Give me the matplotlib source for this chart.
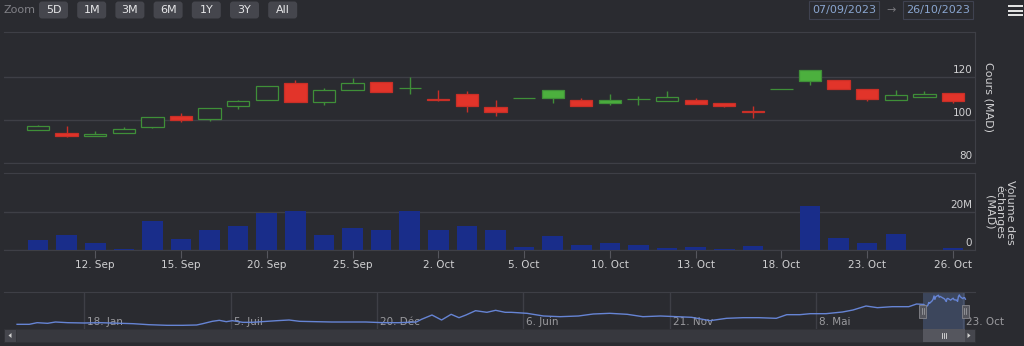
import numpy as np
import pandas as pd
import matplotlib
matplotlib.use("Agg")
import matplotlib.pyplot as plt
import matplotlib.dates as mdates
from matplotlib.patches import Rectangle, FancyBboxPatch, Polygon
from matplotlib.transforms import blended_transform_factory, offset_copy

plt.rcParams['font.family'] = ['DejaVu Sans']

W, H = 1024, 346
BG = "#2a2b30"
GRID = "#3e3f46"
TEXT = "#d0d0d2"
GREEN_EDGE = "#3f8f38"
GREEN_FILL = "#4cb03e"
RED_EDGE = "#c92f27"
RED_FILL = "#e2342a"
VOL_COLOR = "#192d8a"
NAV_LINE = "#6684d4"

# daily candles (MAD)
dates = pd.to_datetime([
    "2023-09-08", "2023-09-11", "2023-09-12", "2023-09-13", "2023-09-14",
    "2023-09-15", "2023-09-18", "2023-09-19", "2023-09-20", "2023-09-21",
    "2023-09-22", "2023-09-25", "2023-09-26", "2023-09-27", "2023-10-02",
    "2023-10-03", "2023-10-04", "2023-10-05", "2023-10-06", "2023-10-09",
    "2023-10-10", "2023-10-11", "2023-10-12", "2023-10-13", "2023-10-16",
    "2023-10-17", "2023-10-18", "2023-10-19", "2023-10-20", "2023-10-23",
    "2023-10-24", "2023-10-25", "2023-10-26"])
opens = [95.5, 94.0, 92.5, 93.9, 96.7, 101.7, 100.5, 106.6, 109.2, 117.0,
         108.3, 113.8, 117.5, 114.8, 109.8, 112.0, 106.1, 110.1, 114.1, 109.4,
         109.1, 109.6, 108.7, 109.1, 108.1, 104.0, 114.6, 123.1, 118.5, 114.6,
         109.5, 110.9, 112.5]
highs = [97.6, 97.0, 94.8, 96.5, 101.5, 103.4, 105.4, 109.5, 115.8, 118.5,
         114.7, 119.4, 117.8, 119.9, 113.8, 113.3, 109.5, 110.1, 114.1, 110.0,
         112.0, 111.3, 113.3, 110.3, 108.1, 106.7, 114.6, 123.1, 118.5, 114.6,
         114.1, 113.3, 112.5]
lows = [95.5, 91.8, 92.4, 93.9, 96.2, 98.9, 99.7, 105.3, 109.2, 108.3,
        107.0, 113.8, 113.0, 112.2, 108.6, 103.6, 101.7, 110.1, 107.8, 106.6,
        106.9, 107.0, 108.7, 107.3, 106.1, 100.9, 114.6, 116.4, 114.2, 108.9,
        109.5, 110.9, 108.1]
closes = [97.2, 92.5, 93.6, 95.8, 101.5, 99.8, 105.4, 108.9, 115.8, 108.3,
          114.1, 117.4, 113.0, 114.8, 109.3, 106.6, 103.6, 110.1, 110.3, 106.6,
          108.1, 109.7, 110.8, 107.5, 106.6, 103.8, 114.6, 118.0, 114.2, 109.9,
          111.8, 112.1, 108.7]
# traded value, millions of MAD
volumes_m = [5.3, 7.7, 3.5, 0.5, 15.3, 5.8, 10.7, 12.9, 19.6, 20.7,
             7.7, 11.4, 10.8, 20.7, 10.8, 12.9, 10.5, 1.7, 7.2, 2.8,
             3.5, 2.5, 1.0, 1.4, 0.5, 1.9, 0.0, 23.5, 6.1, 3.8,
             8.6, 0.0, 0.8]

# older closes for the navigator strip
hist_dates = pd.to_datetime([
    "2020-11-02", "2020-11-16", "2020-11-25", "2020-12-07", "2020-12-16",
    "2020-12-30", "2021-01-18", "2021-02-05", "2021-03-01", "2021-03-15",
    "2021-04-02", "2021-04-23", "2021-05-11", "2021-05-27", "2021-06-03",
    "2021-06-14", "2021-06-22", "2021-06-30", "2021-07-07", "2021-07-19",
    "2021-07-30", "2021-08-16", "2021-08-27", "2021-09-10", "2021-09-22",
    "2021-10-11", "2021-10-29", "2021-11-18", "2021-12-07", "2021-12-27",
    "2022-01-14", "2022-02-03", "2022-02-09", "2022-02-21", "2022-03-04",
    "2022-03-15", "2022-03-24", "2022-04-01", "2022-04-12", "2022-04-25",
    "2022-05-05", "2022-05-16", "2022-05-23", "2022-06-10", "2022-06-29",
    "2022-07-18", "2022-08-08", "2022-08-25", "2022-09-13", "2022-10-03",
    "2022-10-21", "2022-11-10", "2022-11-29", "2022-12-16", "2023-01-06",
    "2023-01-25", "2023-02-13", "2023-03-03", "2023-03-23", "2023-04-04",
    "2023-04-19", "2023-05-01", "2023-05-19", "2023-06-07", "2023-06-19",
    "2023-07-04", "2023-07-17", "2023-08-03", "2023-08-22", "2023-08-31"])
hist_close = [53.4, 53.4, 57.0, 55.6, 58.5, 57.0, 56.3, 57.0, 55.6, 54.8,
              52.6, 51.2, 51.2, 51.9, 54.8, 60.0, 62.2, 59.2, 61.4, 57.8,
              57.8, 60.0, 61.4, 62.9, 60.0, 59.2, 58.5, 58.5, 58.5, 57.0,
              57.0, 58.5, 64.4, 73.9, 62.9, 75.4, 68.0, 73.9, 83.4, 79.8,
              84.2, 79.8, 79.8, 77.6, 71.7, 70.2, 71.7, 76.1, 77.6, 75.4,
              70.2, 71.7, 70.2, 68.8, 61.4, 66.6, 68.0, 68.0, 66.6, 74.6,
              74.6, 76.8, 76.8, 80.5, 84.9, 93.7, 90.0, 92.2, 92.2, 98.1]

price_ticks = [80, 100, 120]
volume_ticks = [0, 20]
date_tick_idx = [2, 5, 8, 11, 14, 17, 20, 23, 26, 29, 32]
nav_ticks = pd.to_datetime(["2021-01-18", "2021-07-05", "2021-12-20", "2022-06-06",
                            "2022-11-21", "2023-05-08", "2023-10-23"])
mois = ["Jan", "Fév", "Mar", "Avr", "Mai", "Juin", "Juil", "Aoû", "Sep", "Oct", "Nov", "Déc"]
zoom_buttons = ["5D", "1M", "3M", "6M", "1Y", "3Y", "All"]
range_from, range_to = "07/09/2023", "26/10/2023"


def rect(x, y, w, h):
    # pixel box (top-left origin) -> figure fraction
    return [x / W, 1 - (y + h) / H, w / W, h / H]


fig = plt.figure(figsize=(W / 100, H / 100), dpi=100, facecolor=BG)

x = np.arange(len(dates))
o, hi, lo, c = map(np.array, (opens, highs, lows, closes))
prev = np.r_[o[0], c[:-1]]
rising = c >= prev
hollow = c >= o
edge = np.where(rising, GREEN_EDGE, RED_EDGE)
face = [BG if h else (GREEN_FILL if r else RED_FILL) for h, r in zip(hollow, rising)]
xlim = (-1.19, 32.77)

# --- price panel
ax_p = fig.add_axes(rect(4, 32, 971, 131))
ax_p.set_facecolor(BG)
ax_p.vlines(x, lo, hi, colors=edge, lw=1, zorder=2)
ax_p.bar(x, np.abs(c - o), width=0.78, bottom=np.minimum(o, c), color=face,
         edgecolor=edge, linewidth=0.9, zorder=3)
ax_p.set_xlim(*xlim)
ax_p.set_ylim(79.9, 141.0)
ax_p.set_yticks(price_ticks)
ax_p.grid(axis='y', color=GRID, lw=1)
ax_p.tick_params(length=0, labelleft=False, labelbottom=False)
ax_p.set_xticks([])
for v in price_ticks:
    ax_p.text(0.997, v + 1.0, str(v), transform=ax_p.get_yaxis_transform(),
              ha='right', va='bottom', color=TEXT, fontsize=7.5)

# --- volume panel
ax_v = fig.add_axes(rect(4, 173, 971, 77))
ax_v.set_facecolor(BG)
ax_v.bar(x, volumes_m, width=0.72, color=VOL_COLOR, zorder=3)
ax_v.set_xlim(*xlim)
ax_v.set_ylim(0, 40.8)
ax_v.set_yticks(volume_ticks)
ax_v.grid(axis='y', color=GRID, lw=1)
ax_v.tick_params(axis='y', length=0, labelleft=False)
for v in volume_ticks:
    ax_v.text(0.997, v + 1.2, "0" if v == 0 else f"{v}M",
              transform=ax_v.get_yaxis_transform(),
              ha='right', va='bottom', color=TEXT, fontsize=7.5)
ax_v.set_xticks(date_tick_idx)
ax_v.set_xticklabels([f"{dates[i].day}. {dates[i].strftime('%b')}" for i in date_tick_idx])
ax_v.tick_params(axis='x', length=5.8, width=0.8, color="#55565d", pad=1.5,
                 labelcolor=TEXT, labelsize=7.5)

for ax in (ax_p, ax_v):
    for side, sp in ax.spines.items():
        sp.set_color(GRID)
        sp.set_visible(side != 'left')

# --- navigator
nav_d = list(hist_dates) + list(dates)
nav_v = hist_close + closes
ax_n = fig.add_axes(rect(4, 292, 971, 37))
ax_n.set_facecolor(BG)
ax_n.plot(nav_d, nav_v, color=NAV_LINE, lw=1, zorder=3)
ax_n.set_xlim(pd.Timestamp("2020-10-18"), pd.Timestamp("2023-11-06"))
ax_n.set_ylim(43.1, 124.5)
ax_n.set_xticks(nav_ticks)
ax_n.set_yticks([])
ax_n.grid(axis='x', color=GRID, lw=1)
ax_n.tick_params(length=0, labelbottom=False)
for side, sp in ax_n.spines.items():
    sp.set_color(GRID)
    sp.set_visible(side == 'top')
lab_tr = offset_copy(blended_transform_factory(ax_n.transData, ax_n.transAxes),
                     fig=fig, x=3, y=0, units='dots')
for d in nav_ticks:
    ax_n.text(d, 0.2, f"{d.day}. {mois[d.month - 1]}", transform=lab_tr,
              ha='left', va='center', color="#9a9a9e", fontsize=7.5, zorder=1)
r0 = pd.to_datetime(range_from, dayfirst=True)
r1 = pd.to_datetime(range_to, dayfirst=True)
ax_n.axvspan(r0, r1, color="#6685c2", alpha=0.3, lw=0, zorder=2)

# --- overlay: range selector, inputs, scrollbar
ov = fig.add_axes([0, 0, 1, 1], zorder=10)
ov.set_xlim(0, W)
ov.set_ylim(H, 0)
ov.axis('off')
ov.patch.set_alpha(0)

ov.text(4, 10, "Zoom", ha='left', va='center', color="#808086", fontsize=8)
for i, b in enumerate(zoom_buttons):
    bx = 39 + i * 38.2
    ov.add_patch(FancyBboxPatch((bx, 1.5), 29, 17, boxstyle="round,pad=0,rounding_size=3",
                                fc="#45464d", ec="none"))
    ov.text(bx + 14.5, 10, b, ha='center', va='center', color="#e6e6e8", fontsize=8)

for bx, s in ((809, range_from), (903, range_to)):
    ov.add_patch(Rectangle((bx, 1), 70, 18, fc="none", ec="#3f4250", lw=0.8))
    ov.text(bx + 35, 10.5, s, ha='center', va='center', color="#8aa6d0", fontsize=8)
ov.text(891, 10, "→", ha='center', va='center', color="#77777c", fontsize=8)

for yy in (6, 10.5, 15):
    ov.plot([1008, 1023], [yy, yy], color="#e8e8e8", lw=1.4, solid_capstyle='butt')

# pixel positions of the selected range
px0 = ax_n.transData.transform((mdates.date2num(r0), 0))[0]
px1 = ax_n.transData.transform((mdates.date2num(r1), 0))[0]

# scrollbar
ov.add_patch(Rectangle((4, 329), 971, 13, fc="#37383e", ec="#303136", lw=0.6))
ov.add_patch(Rectangle((4, 329), 12, 13, fc="#45464d", ec="#303136", lw=0.6))
ov.add_patch(Polygon([(8.5, 335.5), (11.5, 333), (11.5, 338)], closed=True, fc="#d0d0d0", ec="none"))
ov.add_patch(Rectangle((963, 329), 12, 13, fc="#45464d", ec="#303136", lw=0.6))
ov.add_patch(Polygon([(970.5, 335.5), (967.5, 333), (967.5, 338)], closed=True, fc="#d0d0d0", ec="none"))
ov.add_patch(Rectangle((px0, 329), px1 - px0, 13, fc="#55565e", ec="none"))
mid = (px0 + px1) / 2
for dx in (-2, 0, 2):
    ov.plot([mid + dx, mid + dx], [333, 338], color="#e0e0e0", lw=0.6)

# navigator handles
for hx in (px0, px1):
    ov.add_patch(Rectangle((hx - 3.5, 304.5), 7, 13, fc="#55565d", ec="#85858b", lw=0.6))
    for dx in (-1, 1):
        ov.plot([hx + dx, hx + dx], [308, 314], color="#a8a8ad", lw=0.5)

# axis titles
ov.text(988, 97, "Cours (MAD)", rotation=270, ha='center', va='center',
        color=TEXT, fontsize=8)
ov.text(1000, 212, "Volume des\néchanges\n(MAD)", rotation=270, ha='center', va='center',
        multialignment='center', linespacing=1.0, color=TEXT, fontsize=8)

fig.savefig("out.png", dpi=100, facecolor=BG)
